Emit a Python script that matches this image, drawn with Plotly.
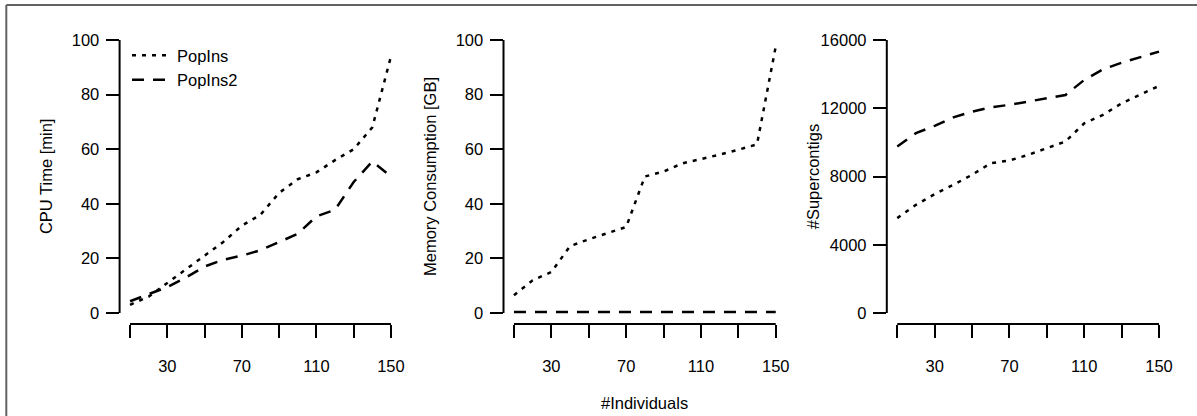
import plotly.graph_objects as go

# ---------------- data ----------------
individuals = [10, 20, 30, 40, 50, 60, 70, 80, 90, 100, 110, 120, 130, 140, 150]

cpu_popins = [3, 6, 11, 16, 21, 26, 32, 36, 44, 49, 51.5, 56, 60, 68, 94]
cpu_popins2 = [4.3, 7, 9.5, 13, 17, 19.5, 21, 23, 26, 29, 35.4, 37.8, 48, 55.5, 50]

mem_popins = [6.5, 12, 15, 24.5, 27, 29.3, 31.5, 50, 51.8, 54.8, 56.3, 58, 59.8, 61.8, 97.6]
mem_popins2 = [0.4, 0.4, 0.4, 0.4, 0.4, 0.4, 0.4, 0.4, 0.4, 0.4, 0.4, 0.4, 0.4, 0.4, 0.4]

sc_popins = [5560, 6340, 6970, 7510, 8100, 8780, 8940, 9270, 9660, 10050, 11120, 11610, 12290, 12780, 13310]
sc_popins2 = [9760, 10540, 10970, 11470, 11800, 12060, 12200, 12390, 12590, 12780, 13660, 14280, 14670, 14990, 15320]

x_tickvals = [10, 30, 50, 70, 90, 110, 130, 150]
x_ticktext = ["", "30", "", "70", "", "110", "", "150"]
y_ticks_pct = [0, 20, 40, 60, 80, 100]
y_ticks_sc = [0, 4000, 8000, 12000, 16000]

series_names = ["PopIns", "PopIns2"]
y_titles = ["CPU Time [min]", "Memory Consumption [GB]", "#Supercontigs"]
x_title = "#Individuals"

# ---------------- layout ----------------
W, H = 1197, 416
FONT = "Liberation Sans, Arial, Helvetica, sans-serif"
FS = 16.5

dot_style = dict(color="black", width=2.5, dash="4px,6px")
dash_style = dict(color="black", width=2.5, dash="12px,9px")

fig = go.Figure()

panels = [
    (cpu_popins, cpu_popins2, y_ticks_pct, (119.6, 401.4)),
    (mem_popins, mem_popins2, y_ticks_pct, (503.5, 786.2)),
    (sc_popins, sc_popins2, y_ticks_sc, (886.8, 1169.5)),
]

y_dom = [1 - 323.9 / H, 1 - 29.1 / H]
shapes = []
annotations = []

for i, (a, b, yt, (px0, px1)) in enumerate(panels):
    n = i + 1
    xa = "x" if n == 1 else f"x{n}"
    ya = "y" if n == 1 else f"y{n}"
    fig.add_trace(go.Scatter(x=individuals, y=a, mode="lines", line=dot_style,
                             name=series_names[0], showlegend=(n == 1),
                             xaxis=xa, yaxis=ya))
    fig.add_trace(go.Scatter(x=individuals, y=b, mode="lines", line=dash_style,
                             name=series_names[1], showlegend=(n == 1),
                             xaxis=xa, yaxis=ya))
    ymin, ymax = yt[0], yt[-1]
    ext = (ymax - ymin) * 0.04
    xext = (individuals[-1] - individuals[0]) * 0.04
    axis_common = dict(showgrid=False, zeroline=False, showline=False,
                       ticks="outside", ticklen=13, tickwidth=2, tickcolor="black",
                       tickfont=dict(family=FONT, size=FS, color="black"),
                       automargin=False, fixedrange=True)
    fig.layout[f"xaxis{'' if n == 1 else n}"] = dict(
        domain=[px0 / W, px1 / W], anchor=ya,
        range=[individuals[0] - xext, individuals[-1] + xext],
        tickmode="array", tickvals=x_tickvals, ticktext=x_ticktext,
        ticklabelstandoff=14, **axis_common)
    fig.layout[f"yaxis{'' if n == 1 else n}"] = dict(
        domain=y_dom, anchor=xa,
        range=[ymin - ext, ymax + ext],
        tickmode="array", tickvals=yt, ticktext=[str(v) for v in yt],
        ticklabelstandoff=3, **axis_common)
    # R-style axis lines spanning first..last tick
    shapes.append(dict(type="line", xref=xa, yref=f"{ya} domain",
                       x0=individuals[0], x1=individuals[-1], y0=0, y1=0,
                       line=dict(color="black", width=2)))
    shapes.append(dict(type="line", xref=f"{xa} domain", yref=ya,
                       x0=0, x1=0, y0=ymin, y1=ymax,
                       line=dict(color="black", width=2)))
    # y axis title
    annotations.append(dict(text=y_titles[i], xref="paper", yref="paper",
                            x=(px0 - 74) / W, y=(y_dom[0] + y_dom[1]) / 2,
                            textangle=-90, showarrow=False,
                            xanchor="center", yanchor="middle",
                            font=dict(family=FONT, size=FS, color="black")))

# shared x title under middle panel
annotations.append(dict(text=x_title, xref="paper", yref="paper",
                        x=(503.5 + 786.2) / 2 / W, y=1 - 403 / H,
                        showarrow=False, xanchor="center", yanchor="middle",
                        font=dict(family=FONT, size=FS, color="black")))

# outer figure box (only top and left edges fall inside the picture)
box_line = dict(color="#626262", width=2)
shapes.append(dict(type="line", xref="paper", yref="paper",
                   x0=6.3 / W, x1=1.0, y0=1 - 5 / H, y1=1 - 5 / H, line=box_line))
shapes.append(dict(type="line", xref="paper", yref="paper",
                   x0=6.3 / W, x1=6.3 / W, y0=0, y1=1 - 5 / H, line=box_line))

fig.update_layout(
    template="none",
    width=W, height=H, autosize=False,
    margin=dict(l=0, r=0, t=0, b=0, pad=0),
    paper_bgcolor="white", plot_bgcolor="white",
    font=dict(family=FONT, size=FS, color="black"),
    shapes=shapes, annotations=annotations,
    showlegend=True,
    legend=dict(x=127 / W, y=1 - 38 / H, xanchor="left", yanchor="top",
                bgcolor="rgba(0,0,0,0)", borderwidth=0,
                font=dict(family=FONT, size=FS, color="black"),
                itemwidth=40, tracegroupgap=0),
)

fig.write_html("out.html")
